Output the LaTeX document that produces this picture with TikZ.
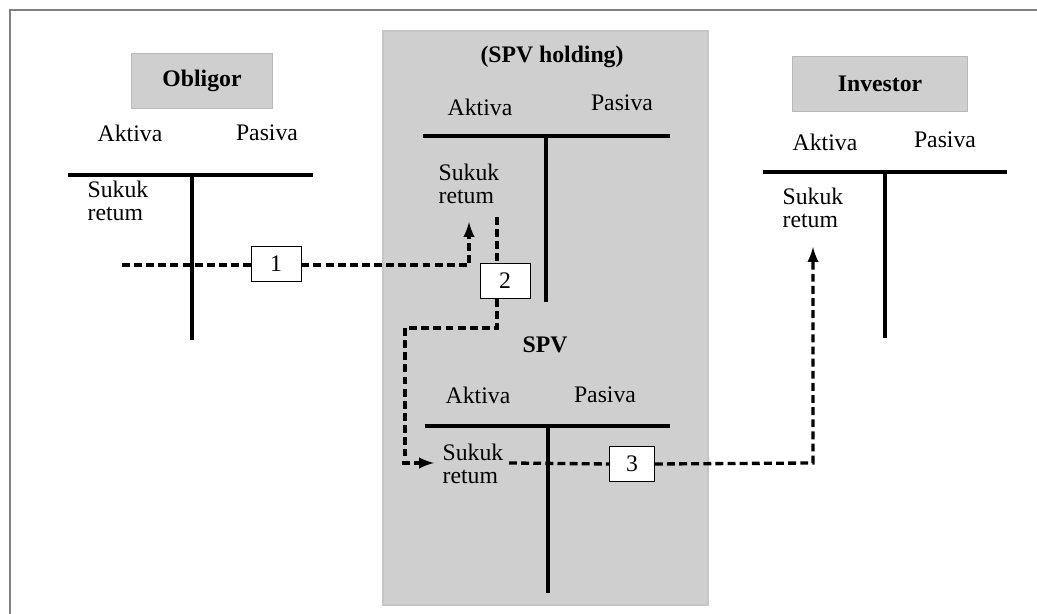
\documentclass[tikz,border=0pt]{standalone}
\usepackage{fontspec}
\setmainfont{Liberation Serif}
\usepackage{tikz}

\begin{document}
\begin{tikzpicture}[x=0.02cm,y=-0.02cm,>=latex,
  every node/.style={font=\fontsize{13.5}{13}\selectfont},
  party/.style={fill=gray!38, draw=gray!55, minimum height=1.1cm, font=\fontsize{13.5}{13}\selectfont\bfseries},
  numbox/.style={draw, fill=white, minimum width=1cm, minimum height=0.7cm, inner sep=0pt},
  tline/.style={line width=1.8pt},
  flow/.style={line width=1.9pt, dash pattern=on 4.5pt off 2.4pt}]
\useasboundingbox (0,0) rectangle (1037,614);
\draw [gray, line width=1.3pt] (10,614) -- (10,10) -- (1037,10);
% holding region
\fill [gray!38] (383,31) rectangle (708,605);
\draw [gray!45, line width=0.6pt] (383,31) rectangle (708,605);
\node [party, minimum width=2.82cm] (obligor) at (202,81) {Obligor};
\node [party, minimum width=3.5cm] (investor) at (880,84) {Investor};
\node [font=\fontsize{13.5}{13}\selectfont\bfseries] (holding) at (552,57) {(SPV holding)};
\node [font=\fontsize{13.5}{13}\selectfont\bfseries] (spv) at (545,345) {SPV};

% T accounts
\node (oakt) at (130,133) {Aktiva};
\node (opas) at (267,133) {Pasiva};
\draw [tline] (68,175) -- (313,175);
\draw [tline] (192,175) -- (192,340);
\node [align=left] (osuk) at (118,201) {Sukuk\\retum};

\node (hakt) at (480,107) {Aktiva};
\node (hpas) at (622,103) {Pasiva};
\draw [tline] (423,136) -- (670,136);
\draw [tline] (546,136) -- (546,302);
\node [align=left] (hsuk) at (469,184) {Sukuk\\retum};

\node (sakt) at (478,395) {Aktiva};
\node (spas) at (605,395) {Pasiva};
\draw [tline] (425,426) -- (670,426);
\draw [tline] (548,426) -- (548,593);
\node [align=left] (ssuk) at (473,464) {Sukuk\\retum};

\node (iakt) at (825,142) {Aktiva};
\node (ipas) at (945,140) {Pasiva};
\draw [tline] (763,172) -- (1007,172);
\draw [tline] (885,172) -- (885,338);
\node [align=left] (isuk) at (813,208) {Sukuk\\retum};

% flows
\node [numbox] (b1) at (276,264) {1};
\node [numbox] (b2) at (505,281) {2};
\node [numbox, minimum width=0.9cm] (b3) at (632,464) {3};
\coordinate (f1s) at (122,265);
\coordinate (f1c) at (469,265);
\coordinate (f1e) at (469,222);
\coordinate (f2s) at (497,217);
\coordinate (f2a) at (497,328);
\coordinate (f2b) at (405,328);
\coordinate (f2c) at (405,456);
\coordinate (f2d) at (402,463);
\coordinate (f2e) at (434,463);
\coordinate (f3s) at (509,463);
\coordinate (f3c) at (813,463);
\coordinate (f3e) at (813,247);

\draw [flow] (f1s) -- (b1.west |- f1s);
\draw [flow,->] (b1.east |- f1c) -- (f1c) -- (f1e);
\draw [flow] (f2s) -- (f2s |- b2.north);
\draw [flow] (f2s |- b2.south) -- (f2a) -- (f2b) -- (f2c);
\draw [flow,->] (f2d) -- (f2e);
\draw [flow] (f3s) -- (b3.west);
\draw [flow,->] (b3.east) -- (f3c) -- (f3e);
\end{tikzpicture}
\end{document}
